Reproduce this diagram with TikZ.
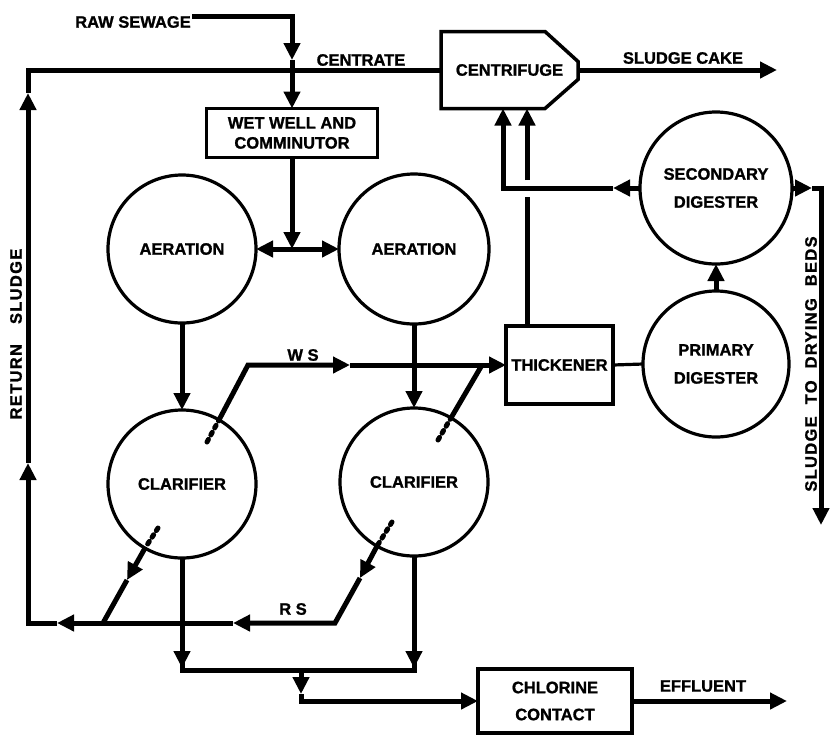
\documentclass[tikz,border=0pt]{standalone}
\usepackage{fontspec}
\setmainfont{Liberation Sans}[BoldFeatures={FakeBold=1.2}]
\newfontfamily\spacedfont[LetterSpace=8,BoldFeatures={FakeBold=1.2}]{Liberation Sans}
\usetikzlibrary{arrows.meta,calc}
\begin{document}
\begin{tikzpicture}[x=1pt,y=-1pt,
  every node/.style={font=\fontsize{16.5}{20}\selectfont\bfseries, inner sep=0pt, outer sep=0pt},
  flowtip/.tip={Triangle[length=17pt,width=16pt]},
  flow/.style={line width=5pt},
  arr/.style={line width=5pt,-flowtip},
  dflow/.style={line width=5pt, line cap=round, dash pattern=on 3pt off 5pt},
  vessel/.style={draw, circle, line width=3.2pt, minimum size=#1, align=center},
  unit/.style={draw, rectangle, line width=3.5pt, align=center}
]
\useasboundingbox[fill=white] (0,0) rectangle (834,737);

% ---- process units ----
\node[vessel=148] (aer1) at (182,249) {AERATION};
\node[vessel=150] (aer2) at (414,249) {AERATION};
\node[vessel=148] (cl1) at (182,484) {CLARIFIER};
\node[vessel=148] (cl2) at (414,482) {CLARIFIER};
\node[vessel=146] (pd) at (716,364) {PRIMARY\\[8pt]DIGESTER};
\node[vessel=152] (sd) at (716,188) {SECONDARY\\[8pt]DIGESTER};
\node[unit, minimum width=171, minimum height=49] (wet) at (292,133) {WET WELL AND\\COMMINUTOR};
\node[unit, minimum width=107, minimum height=78] (thick) at (559.5,365) {THICKENER};
\node[unit, minimum width=154, minimum height=64] (chl) at (555,701) {CHLORINE\\[7pt]CONTACT};
\node[minimum width=137, minimum height=77] (cf) at (509.5,70) {CENTRIFUGE};
\draw[line width=3.5pt, line join=miter] (cf.north west) -- ++(104,0) -- ++(33,30) -- ++(0,18) -- ++(-33,29) -- (cf.south west) -- cycle;

% ---- labels ----
\node (lraw) at (133,22) {RAW SEWAGE};
\node (lcen) at (361,60) {CENTRATE};
\node (lcake) at (683,58) {SLUDGE CAKE};
\node (lws) at (303,355) {W S};
\node (lrs) at (293,609) {R S};
\node (leff) at (703,686) {EFFLUENT};
\node[rotate=90, font=\fontsize{16.5}{20}\spacedfont\bfseries] (lret) at (16,334) {RETURN\hspace{20pt}SLUDGE};
\node[rotate=90, font=\fontsize{16.5}{20}\spacedfont\bfseries] (ldry) at (811,364) {SLUDGE\hspace{12pt}TO\hspace{12pt}DRYING\hspace{12pt}BEDS};

% ---- raw sewage ----
\coordinate (rs) at (192,16);
\coordinate (rsa) at (292,60);
\draw[arr] (rs) -| (rsa);
\draw[arr] (rsa) -- (wet.north);

% ---- centrate and return sludge ----
\coordinate (tl) at (28,70);
\coordinate (bl) at (28,623);
\coordinate (rla) at (28,463);
\coordinate (rlb) at (28,93);
\coordinate (rb1) at (57,623);
\coordinate (rb2) at (233,623);
\coordinate (rsj) at (335,623);
\coordinate (rsj1) at (103,623);
\draw[flow] (rlb) -- (tl) -- (cf.west);
\draw[arr] (rb2) -- (rb1);
\draw[arr] (rb1) -- (bl) -- (rla);
\draw[arr] (rla) -- (rlb);

% ---- wet well to aeration ----
\coordinate (j1) at (wet.south |- aer1.east);
\draw[arr] (wet.south) -- (j1);
\draw[arr] (j1) -- (aer1.east);
\draw[arr] (j1) -- (aer2.west);

% ---- aeration to clarifiers ----
\draw[arr] (aer1.south) -- (cl1.north);
\draw[arr] (aer2.south) -- (cl2.north);

% ---- waste sludge ----
\coordinate (ws1) at (207,442);
\coordinate (wsc) at (248,365);
\coordinate (wsa) at (350,365);
\draw[dflow] (ws1) -- (cl1.60);
\draw[arr] (cl1.60) -- (wsc) -- (wsa);
\draw[arr] (wsa) -- (thick.west);
\coordinate (ws2) at (438,440);
\coordinate (wsj) at (482,365);
\draw[dflow] (ws2) -- (cl2.60);
\draw[flow] (cl2.60) -- (wsj);

% ---- thickener / digesters / centrifuge ----
\coordinate (t1) at ($(thick.north west)+(21,0)$);
\coordinate (tg1) at (527,197);
\coordinate (tg2) at (527,180);
\draw[flow] (t1) -- (tg1);
\draw[arr] (tg2) -- (tg2 |- cf.south);
\coordinate (sda) at (613,188);
\coordinate (sdc) at (503,188);
\draw[arr] (sd.west) -- (sda);
\draw[arr] (sda) -- (sdc) -- (sdc |- cf.south);
\draw[line width=3.2pt] (thick.east) -- (pd.west);
\draw[arr] (pd.north) -- (sd.south);
\coordinate (sdr) at (812,188);
\coordinate (dbc) at (821,188);
\coordinate (dbe) at (821,525);
\draw[arr] (sd.east) -- (sdr);
\draw[arr] (sdr) -- (dbc) -- (dbe);
\coordinate (sce) at (777,70);
\draw[arr] (cf.east) -- (sce);

% ---- return sludge from clarifiers ----
\coordinate (rs1) at (158,528);
\coordinate (rs1a) at (127,580);
\draw[dflow] (rs1) -- (cl1.240);
\draw[arr] (cl1.240) -- (rs1a);
\draw[flow] (rs1a) -- (rsj1);
\coordinate (rs2) at (392,522);
\coordinate (rs2a) at (360,578);
\draw[dflow] (rs2) -- (cl2.240);
\draw[arr] (cl2.240) -- (rs2a);
\draw[arr] (rs2a) -- (rsj) -- (rb2);

% ---- clarified effluent ----
\coordinate (c1b) at (182,668);
\coordinate (c2b) at (414,668);
\coordinate (h1) at (182,650);
\coordinate (h2) at (414,650);
\draw[arr] (cl1.south) -- (c1b);
\draw[arr] (cl2.south) -- (c2b);
\draw[flow] (h1) -- (182,670) -- (414,670) -- (h2);
\coordinate (cd) at (301,670);
\coordinate (cda) at (301,694);
\draw[arr] (cd) -- (cda);
\draw[arr] (cda) -- (cda |- chl.west) -- (chl.west);
\coordinate (eff) at (787,701);
\draw[arr] (chl.east) -- (eff);
\end{tikzpicture}
\end{document}
